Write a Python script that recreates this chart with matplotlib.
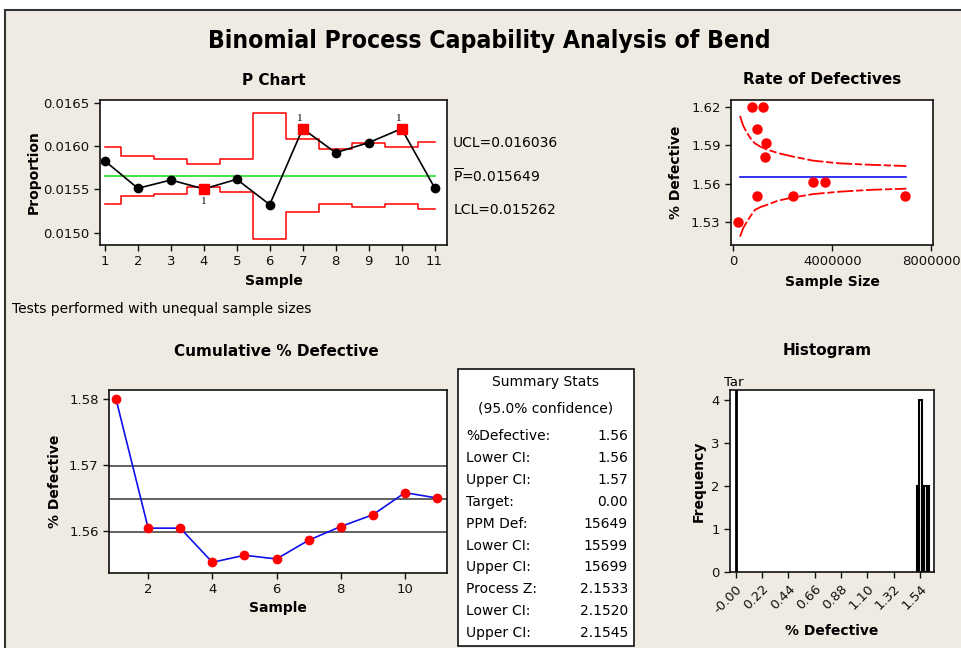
import matplotlib
matplotlib.use("Agg")
import matplotlib.pyplot as plt
from matplotlib.patches import Rectangle
from matplotlib.transforms import blended_transform_factory
from matplotlib import font_manager
from matplotlib.font_manager import FontProperties

# ---------------- data ----------------
samples = [1, 2, 3, 4, 5, 6, 7, 8, 9, 10, 11]
proportion = [0.015828, 0.015512, 0.015608, 0.015505, 0.015616, 0.015324,
              0.016200, 0.015923, 0.016039, 0.016200, 0.015520]
ucl = [0.015989, 0.015889, 0.015854, 0.015796, 0.015854, 0.016378,
       0.016085, 0.015969, 0.016032, 0.015989, 0.016050]
lcl = [0.015332, 0.015424, 0.015447, 0.015524, 0.015470, 0.014928,
       0.015236, 0.015332, 0.015294, 0.015332, 0.015274]
p_bar = 0.015649
ucl_label_value = 0.016036
lcl_label_value = 0.015262
flagged_samples = [4, 7, 10]
flag_above = [False, True, True]
p_yticks = [0.0150, 0.0155, 0.0160, 0.0165]

sample_size = [1.28e6, 2.42e6, 3.23e6, 6.95e6, 3.71e6, 0.20e6,
               0.74e6, 1.34e6, 0.94e6, 1.21e6, 0.94e6]
rate_pct = [1.581, 1.5504, 1.5614, 1.5504, 1.5614, 1.530,
            1.620, 1.5921, 1.6027, 1.620, 1.5504]
limit_n = [0.27e6, 0.40e6, 0.55e6, 0.70e6, 0.87e6, 1.10e6, 1.34e6, 1.80e6,
           2.42e6, 3.23e6, 4.30e6, 5.50e6, 6.99e6]
upper_limit_pct = [1.6132, 1.6055, 1.6000, 1.5955, 1.5917, 1.5890, 1.5870, 1.5840,
                   1.5812, 1.5780, 1.5759, 1.5748, 1.5738]
lower_limit_pct = [1.5182, 1.5250, 1.5300, 1.5345, 1.5392, 1.5415, 1.5431, 1.5465,
                   1.5491, 1.5517, 1.5536, 1.5550, 1.5560]
center_pct = 1.5649

cum_pct = [1.5800, 1.56046, 1.56046, 1.55528, 1.55635, 1.55579,
           1.55863, 1.56071, 1.56249, 1.56584, 1.56503]
ci_lines = [1.5699, 1.5649, 1.5599]

hist_edges = [1.512, 1.534, 1.559, 1.576, 1.595, 1.615]
hist_counts = [2, 4, 1, 2, 2]
hist_ticks = [0.0, 0.22, 0.44, 0.66, 0.88, 1.10, 1.32, 1.54]
hist_ticklabels = ["-0.00", "0.22", "0.44", "0.66", "0.88", "1.10", "1.32", "1.54"]
target = 0.0

stat_labels = ["%Defective:", "Lower CI:", "Upper CI:", "Target:", "PPM Def:",
               "Lower CI:", "Upper CI:", "Process Z:", "Lower CI:", "Upper CI:"]
stat_values = ["1.56", "1.56", "1.57", "0.00", "15649",
               "15599", "15699", "2.1533", "2.1520", "2.1545"]

# ---------------- style ----------------
W, H = 961, 648
BG = "#EFEBE2"
plt.rcParams["font.family"] = ["DejaVu Sans"]
plt.rcParams["axes.linewidth"] = 1.2

cond_bold = [f.fname for f in font_manager.fontManager.ttflist
             if ("Condensed" in f.fname or "Narrow" in f.fname)
             and ("Bold" in f.fname) and ("Oblique" not in f.fname)
             and ("Italic" not in f.fname)]
if cond_bold:
    title_fp = FontProperties(fname=sorted(cond_bold)[0], size=17.7)
else:
    title_fp = FontProperties(family="DejaVu Sans", weight="bold", size=16)

fig = plt.figure(figsize=(W / 100, H / 100), dpi=100, facecolor="white")
fig.patches.append(Rectangle((5 / W, -0.1), 1.2, 1 - 10 / H + 0.1,
                             transform=fig.transFigure, facecolor=BG,
                             edgecolor="#333333", linewidth=1.5, zorder=-10))


def ax_at(l, t, r, b):
    return fig.add_axes([l / W, 1 - b / H, (r - l) / W, (b - t) / H])


def style(ax):
    ax.set_facecolor("white")
    ax.tick_params(direction="out", length=4, width=1, labelsize=9.5,
                   colors="#111111")
    for s in ax.spines.values():
        s.set_color("#111111")


fig.text(489 / W, 1 - 41 / H, "Binomial Process Capability Analysis of Bend",
         ha="center", va="center", fontproperties=title_fp)

# ---------------- P chart ----------------
ax1 = ax_at(100, 100, 447, 245)
style(ax1)
ax1.step(samples, ucl, where="mid", color="red", lw=1.1)
ax1.step(samples, lcl, where="mid", color="red", lw=1.1)
ax1.plot([samples[0], samples[-1]], [p_bar, p_bar], color="#22DD22", lw=1.2)
ax1.plot(samples, proportion, color="black", lw=1.2, zorder=3)
normal = [i for i, s in enumerate(samples) if s not in flagged_samples]
ax1.plot([samples[i] for i in normal], [proportion[i] for i in normal], "o",
         color="black", ms=6, zorder=4)
for s, up in zip(flagged_samples, flag_above):
    v = proportion[samples.index(s)]
    ax1.plot(s, v, "s", color="red", ms=6.5, zorder=5)
    ax1.annotate("1", (s, v), xytext=(-2 if up else 0, 7 if up else -9),
                 textcoords="offset points", ha="center", va="center",
                 fontsize=8, family="Liberation Serif")
ax1.set_xlim(0.851, 11.378)
ax1.set_ylim(0.014858, 0.016531)
ax1.set_xticks(samples)
ax1.set_yticks(p_yticks)
ax1.set_yticklabels([f"{v:.4f}" for v in p_yticks])
ax1.set_xlabel("Sample", fontsize=10, fontweight="bold", labelpad=4)
ax1.set_ylabel("Proportion", fontsize=10, fontweight="bold", labelpad=2)
ax1.set_title("P Chart", fontsize=11, fontweight="bold", pad=11)
tr = blended_transform_factory(ax1.transAxes, ax1.transData)
ax1.text(1.018, ucl_label_value, f"UCL={ucl_label_value:.6f}", transform=tr,
         va="center", fontsize=10)
ax1.text(1.018, p_bar, r"$\overline{\mathrm{P}}$" + f"={p_bar:.6f}", transform=tr,
         va="center", fontsize=10)
ax1.text(1.018, lcl_label_value, f"LCL={lcl_label_value:.6f}", transform=tr,
         va="center", fontsize=10)

fig.text(12 / W, 1 - 309 / H, "Tests performed with unequal sample sizes",
         ha="left", va="center", fontsize=10)

# ---------------- Rate of Defectives ----------------
ax2 = ax_at(731, 100, 933, 245)
style(ax2)
ax2.plot(limit_n, upper_limit_pct, color="red", lw=1.3, dashes=(9, 1.5, 4, 1.5))
ax2.plot(limit_n, lower_limit_pct, color="red", lw=1.3, dashes=(9, 1.5, 4, 1.5))
ax2.plot([limit_n[0], limit_n[-1]], [center_pct, center_pct], color="#1010EE", lw=1.2)
ax2.plot(sample_size, rate_pct, "o", color="red", ms=6.5, zorder=4)
ax2.set_xlim(-0.094e6, 8.067e6)
ax2.set_ylim(1.5116, 1.6258)
ax2.set_xticks([0, 4000000, 8000000])
ax2.set_xticklabels(["0", "4000000", "8000000"])
ax2.set_yticks([1.53, 1.56, 1.59, 1.62])
ax2.set_yticklabels(["1.53", "1.56", "1.59", "1.62"])
ax2.set_xlabel("Sample Size", fontsize=10, fontweight="bold", labelpad=5)
ax2.set_ylabel("% Defective", fontsize=10, fontweight="bold", labelpad=6)
fig.text(822 / W, 1 - 79 / H, "Rate of Defectives", ha="center", va="center",
         fontsize=11, fontweight="bold")

# ---------------- Cumulative % Defective ----------------
ax3 = ax_at(109, 390, 447, 573)
style(ax3)
for v in ci_lines:
    ax3.axhline(v, color="#555555", lw=1.3, zorder=1)
ax3.plot(samples, cum_pct, color="#1010EE", lw=1.2, zorder=2)
ax3.plot(samples, cum_pct, "o", color="red", ms=6, zorder=3)
ax3.set_xlim(0.78, 11.31)
ax3.set_ylim(1.55366, 1.58141)
ax3.set_xticks([2, 4, 6, 8, 10])
ax3.set_yticks([1.56, 1.57, 1.58])
ax3.set_yticklabels(["1.56", "1.57", "1.58"])
ax3.set_xlabel("Sample", fontsize=10, fontweight="bold", labelpad=3)
ax3.set_ylabel("% Defective", fontsize=10, fontweight="bold", labelpad=5)
fig.text(276 / W, 1 - 351 / H, "Cumulative % Defective", ha="center", va="center",
         fontsize=11, fontweight="bold")

# ---------------- Summary stats box ----------------
box_l, box_t, box_r, box_b = 458, 369, 634, 646
fig.patches.append(Rectangle((box_l / W, 1 - box_b / H), (box_r - box_l) / W,
                             (box_b - box_t) / H, transform=fig.transFigure,
                             facecolor="white", edgecolor="#111111", lw=1.2))
cx = (box_l + box_r) / 2
fig.text(cx / W, 1 - 382 / H, "Summary Stats", ha="center", va="center", fontsize=10)
fig.text(cx / W, 1 - 408 / H, "(95.0% confidence)", ha="center", va="center", fontsize=10)
for i, (lab, val) in enumerate(zip(stat_labels, stat_values)):
    y = 436 + i * 21.9
    fig.text(466 / W, 1 - y / H, lab, ha="left", va="center", fontsize=10)
    fig.text(628 / W, 1 - y / H, val, ha="right", va="center", fontsize=10)

# ---------------- Histogram ----------------
ax4 = ax_at(730, 390, 934, 572)
style(ax4)
ax4.hist(hist_edges[:-1], bins=hist_edges, weights=hist_counts,
         facecolor="white", edgecolor="black", lw=1.5, zorder=2)
ax4.plot([target, target], [0, 4.232], color="black", lw=2, zorder=3)
ax4.set_xlim(-0.0473, 1.657)
ax4.set_ylim(0, 4.232)
ax4.set_xticks(hist_ticks)
ax4.set_xticklabels(hist_ticklabels, rotation=45, ha="right", rotation_mode="anchor")
ax4.set_yticks([0, 1, 2, 3, 4])
ax4.set_xlabel("% Defective", fontsize=10, fontweight="bold", labelpad=6)
ax4.set_ylabel("Frequency", fontsize=10, fontweight="bold", labelpad=4)
ax4.text(target - 0.02, 1.005, "Tar",
         transform=blended_transform_factory(ax4.transData, ax4.transAxes),
         ha="center", va="bottom", fontsize=9.5)
fig.text(827 / W, 1 - 351 / H, "Histogram", ha="center", va="center",
         fontsize=11, fontweight="bold")

fig.savefig("out.png", dpi=100, facecolor="white")
